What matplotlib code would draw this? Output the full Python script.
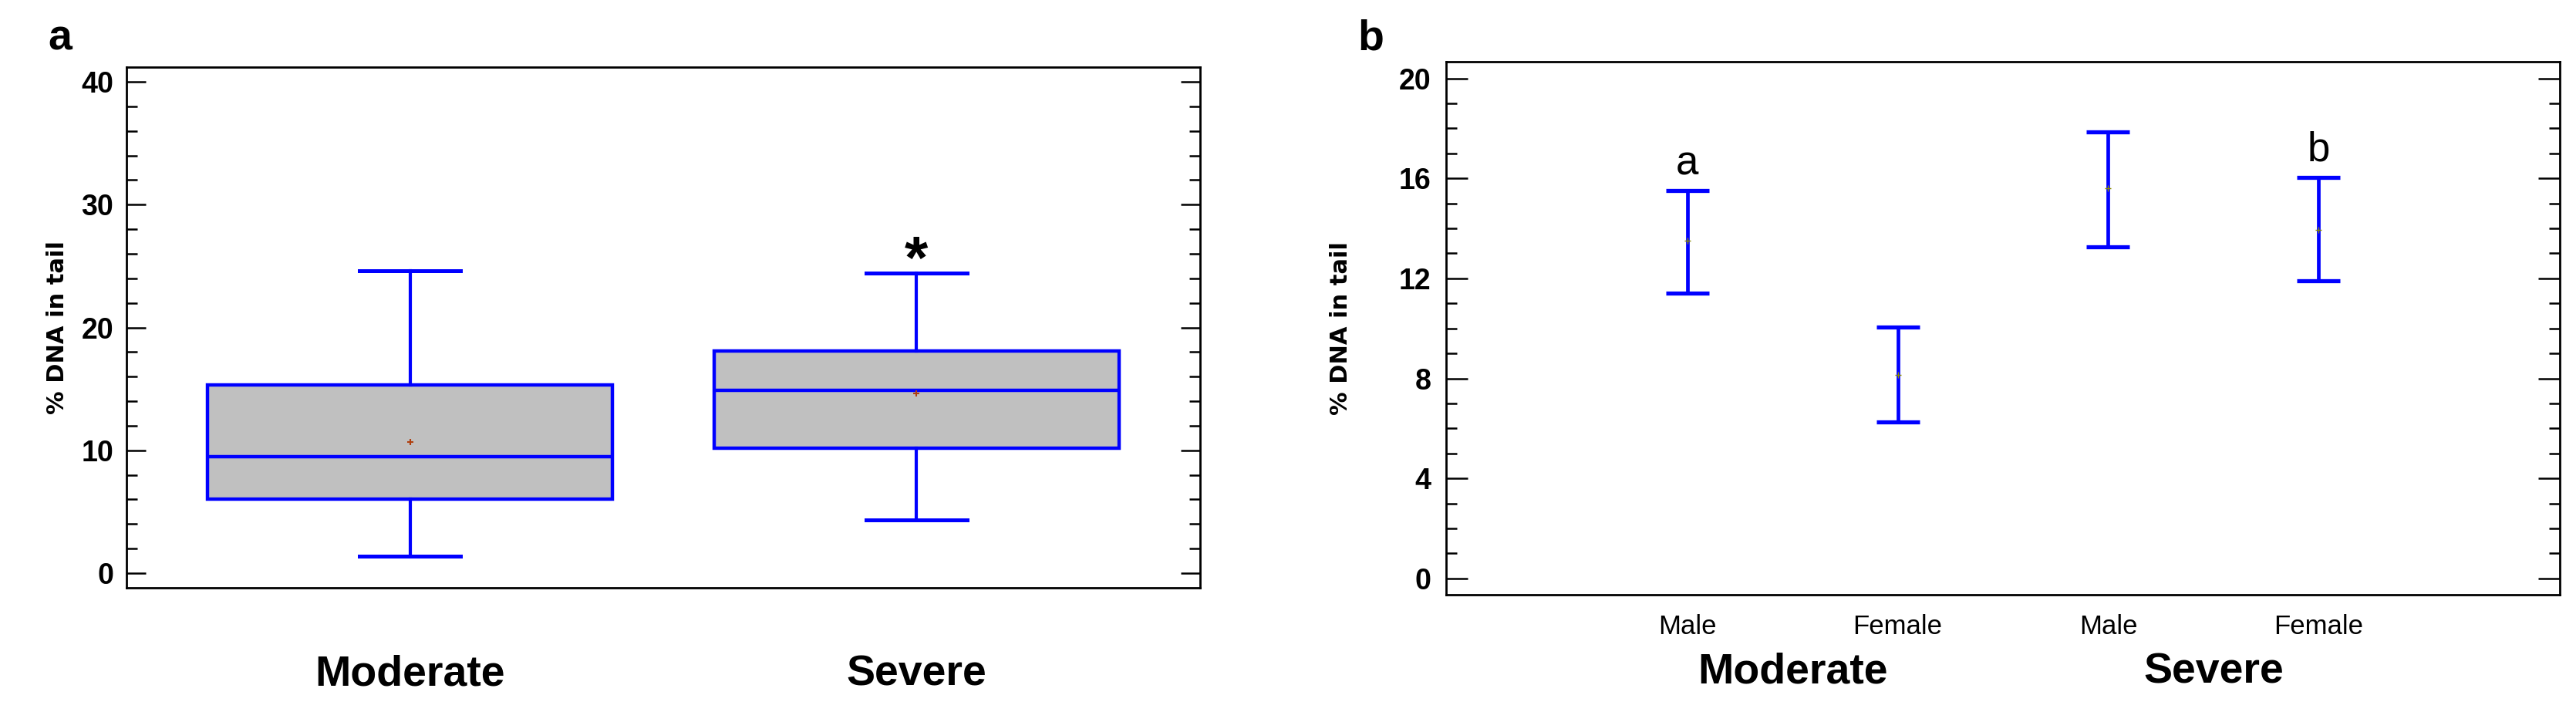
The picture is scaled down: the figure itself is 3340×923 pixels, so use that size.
import numpy as np
import matplotlib
matplotlib.use('Agg')
import matplotlib.pyplot as plt
from matplotlib.ticker import MultipleLocator
import matplotlib.transforms as mtransforms

# data
severity = ['Moderate', 'Severe']
box_q1 = [6.0, 10.2]
box_med = [9.5, 14.9]
box_q3 = [15.3, 18.1]
box_lo = [1.4, 4.3]
box_hi = [24.6, 24.4]
box_mean = [10.7, 14.6]

sex = ['Male', 'Female', 'Male', 'Female']
sex_group = ['Moderate', 'Moderate', 'Severe', 'Severe']
sex_mean = [13.5, 8.15, 15.6, 13.95]
sex_lower = [11.4, 6.25, 13.25, 11.9]
sex_upper = [15.5, 10.05, 17.85, 16.05]
sex_letters = ['a', '', '', 'b']

plt.rcParams['font.family'] = ['Liberation Sans', 'DejaVu Sans']
blue = '#0000FF'

fig = plt.figure(figsize=(33.4, 9.23), dpi=100)

# panel a: box plot
ax1 = fig.add_axes([0.0491, 0.1744, 0.4168, 0.7313])
stats = []
for i in range(len(severity)):
    stats.append(dict(med=box_med[i], q1=box_q1[i], q3=box_q3[i],
                      whislo=box_lo[i], whishi=box_hi[i], mean=box_mean[i],
                      fliers=[], label=severity[i]))
ax1.bxp(stats, positions=[1, 2], widths=0.8, capwidths=0.2, patch_artist=True,
        showmeans=True,
        boxprops=dict(facecolor='#C0C0C0', edgecolor=blue, linewidth=3.2),
        medianprops=dict(color=blue, linewidth=3.2),
        whiskerprops=dict(color=blue, linewidth=3.0),
        capprops=dict(color=blue, linewidth=3.6),
        meanprops=dict(marker='+', markeredgecolor='#B04010', markersize=6, markeredgewidth=1.5))
ax1.set_xlim(0.44, 2.56)
ax1.set_ylim(-1.2, 41.2)
ax1.yaxis.set_major_locator(MultipleLocator(10))
ax1.yaxis.set_minor_locator(MultipleLocator(2))
ax1.tick_params(axis='y', which='both', direction='in', left=True, right=True, width=1.8)
ax1.tick_params(axis='y', which='major', length=18, labelsize=27, pad=12)
ax1.tick_params(axis='y', which='minor', length=10)
ax1.tick_params(axis='x', length=0, labelsize=40, pad=62)
for lab in ax1.get_yticklabels() + ax1.get_xticklabels():
    lab.set_fontweight('bold')
ax1.set_ylabel('% DNA in tail', fontsize=22, fontweight='bold', family='DejaVu Sans', labelpad=12)
# significance mark above the severe box
ax1.text(2, 25.3, '*', ha='center', va='center', fontsize=56, fontweight='bold')
for sp in ax1.spines.values():
    sp.set_linewidth(2.0)

# panel b: means with intervals by sex
ax2 = fig.add_axes([0.5614, 0.1647, 0.4323, 0.7481])
pos = np.arange(1, len(sex) + 1)
mean_arr = np.array(sex_mean)
yerr = [mean_arr - np.array(sex_lower), np.array(sex_upper) - mean_arr]
ax2.errorbar(pos, mean_arr, yerr=yerr, fmt='+', color='#8B8B00', markersize=6,
             ecolor=blue, elinewidth=3.4, capsize=20.5, capthick=3.8)
for p, top, t in zip(pos, sex_upper, sex_letters):
    if t:
        ax2.text(p, top + 0.3, t, ha='center', va='bottom', fontsize=38)
ax2.set_xlim(-0.145, 5.145)
ax2.set_ylim(-0.65, 20.65)
ax2.set_xticks(pos)
ax2.set_xticklabels(sex)
ax2.yaxis.set_major_locator(MultipleLocator(4))
ax2.yaxis.set_minor_locator(MultipleLocator(1))
ax2.tick_params(axis='y', which='both', direction='in', left=True, right=True, width=1.8)
ax2.tick_params(axis='y', which='major', length=20, labelsize=27, pad=14)
ax2.tick_params(axis='y', which='minor', length=10)
ax2.tick_params(axis='x', length=0, labelsize=25, pad=18)
for lab in ax2.get_yticklabels():
    lab.set_fontweight('bold')
ax2.set_ylabel('% DNA in tail', fontsize=22, fontweight='bold', family='DejaVu Sans', labelpad=44)
trans = mtransforms.blended_transform_factory(ax2.transData, ax2.transAxes)
for g in severity:
    xs = [p for p, s in zip(pos, sex_group) if s == g]
    ax2.text(np.mean(xs), -0.146, g, transform=trans, ha='center', va='center',
             fontsize=40, fontweight='bold')
for sp in ax2.spines.values():
    sp.set_linewidth(2.0)

fig.text(0.0234, 0.9296, 'a', ha='center', va='baseline', fontsize=40, fontweight='bold')
fig.text(0.532, 0.9296, 'b', ha='center', va='baseline', fontsize=40, fontweight='bold')

fig.savefig('out.png', dpi=100)
